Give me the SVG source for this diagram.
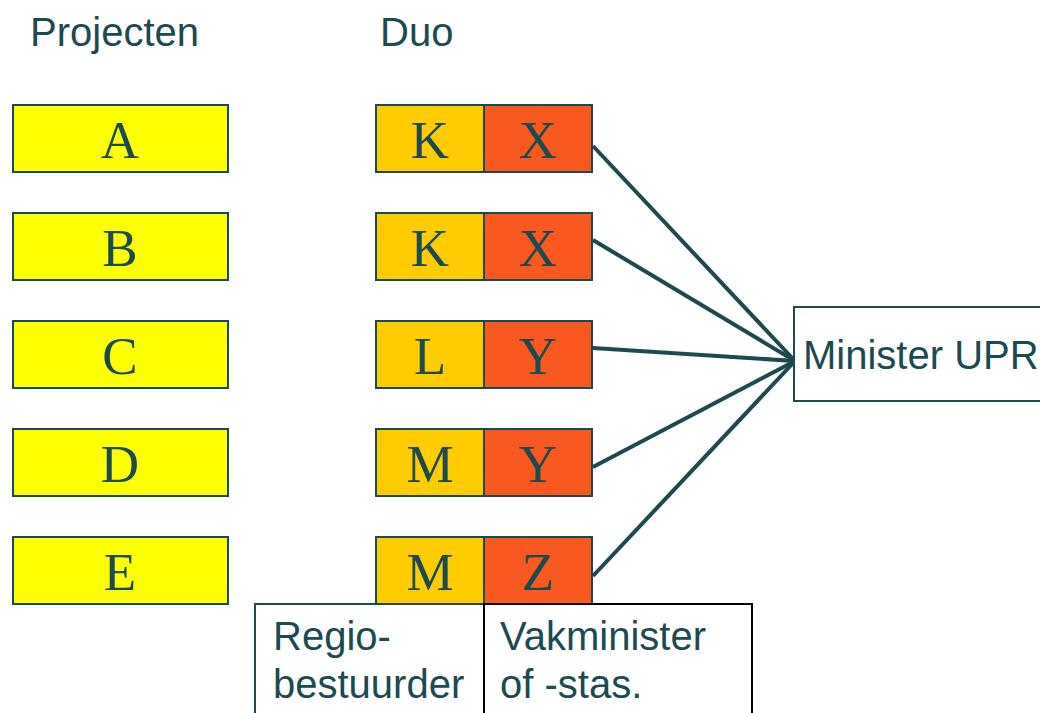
<svg xmlns="http://www.w3.org/2000/svg" width="1040" height="713" viewBox="0 0 1040 713">
<style>
.t{fill:#1b4a50;font-family:"Liberation Sans",Arial,sans-serif}
.h{font-size:40px}
.l{font-size:53px;font-family:"Liberation Serif","Times New Roman",serif;fill:#1b4a50;text-anchor:middle}
.y{fill:#ffff00;stroke:#1b4a50;stroke-width:2}
.g{fill:#ffcc00;stroke:#1b4a50;stroke-width:2}
.o{fill:#f9591e;stroke:#1b4a50;stroke-width:2}
.c{stroke:#1b4a50;stroke-width:4;fill:none}
</style>
<rect width="1040" height="713" fill="#fff"/>
<text class="t h" x="30" y="46">Projecten</text>
<text class="t h" x="380" y="46">Duo</text>
<g id="A"><rect class="y" x="13" y="105" width="215" height="67"/><text class="l" x="120" y="158">A</text></g>
<g id="B"><rect class="y" x="13" y="213" width="215" height="67"/><text class="l" x="120" y="266">B</text></g>
<g id="C"><rect class="y" x="13" y="321" width="215" height="67"/><text class="l" x="120" y="374">C</text></g>
<g id="D"><rect class="y" x="13" y="429" width="215" height="67"/><text class="l" x="120" y="482">D</text></g>
<g id="E"><rect class="y" x="13" y="537" width="215" height="67"/><text class="l" x="120" y="590">E</text></g>
<g id="K1"><rect class="g" x="376" y="105" width="108" height="67"/><text class="l" x="430" y="158">K</text></g>
<g id="X1"><rect class="o" x="484" y="105" width="108" height="67"/><text class="l" x="538" y="158">X</text></g>
<g id="K2"><rect class="g" x="376" y="213" width="108" height="67"/><text class="l" x="430" y="266">K</text></g>
<g id="X2"><rect class="o" x="484" y="213" width="108" height="67"/><text class="l" x="538" y="266">X</text></g>
<g id="L3"><rect class="g" x="376" y="321" width="108" height="67"/><text class="l" x="430" y="374">L</text></g>
<g id="Y3"><rect class="o" x="484" y="321" width="108" height="67"/><text class="l" x="538" y="374">Y</text></g>
<g id="M4"><rect class="g" x="376" y="429" width="108" height="67"/><text class="l" x="430" y="482">M</text></g>
<g id="Y4"><rect class="o" x="484" y="429" width="108" height="67"/><text class="l" x="538" y="482">Y</text></g>
<g id="M5"><rect class="g" x="376" y="537" width="108" height="67"/><text class="l" x="430" y="590">M</text></g>
<g id="Z5"><rect class="o" x="484" y="537" width="108" height="67"/><text class="l" x="538" y="590">Z</text></g>
<g id="connectors">
<line class="c" x1="593" y1="146" x2="795" y2="361"/>
<line class="c" x1="593" y1="240" x2="795" y2="361"/>
<line class="c" x1="593" y1="348" x2="795" y2="361"/>
<line class="c" x1="593" y1="467" x2="795" y2="361"/>
<line class="c" x1="593" y1="576" x2="795" y2="361"/>
</g>
<g id="minister"><rect x="794" y="307" width="260" height="94" fill="#fff" stroke="#1b4a50" stroke-width="2"/><text class="t h" x="803" y="369">Minister UPR</text></g>
<g id="regio"><rect x="255" y="604" width="229" height="120" fill="#fff" stroke="#1b4a50" stroke-width="2"/><text class="t h" x="273" y="650">Regio-</text><text class="t h" x="273" y="698">bestuurder</text></g>
<g id="vak"><rect x="484" y="604" width="268" height="120" fill="#fff" stroke="#000" stroke-width="2"/><text class="t h" x="500" y="650">Vakminister</text><text class="t h" x="500" y="698">of -stas.</text></g>
</svg>
